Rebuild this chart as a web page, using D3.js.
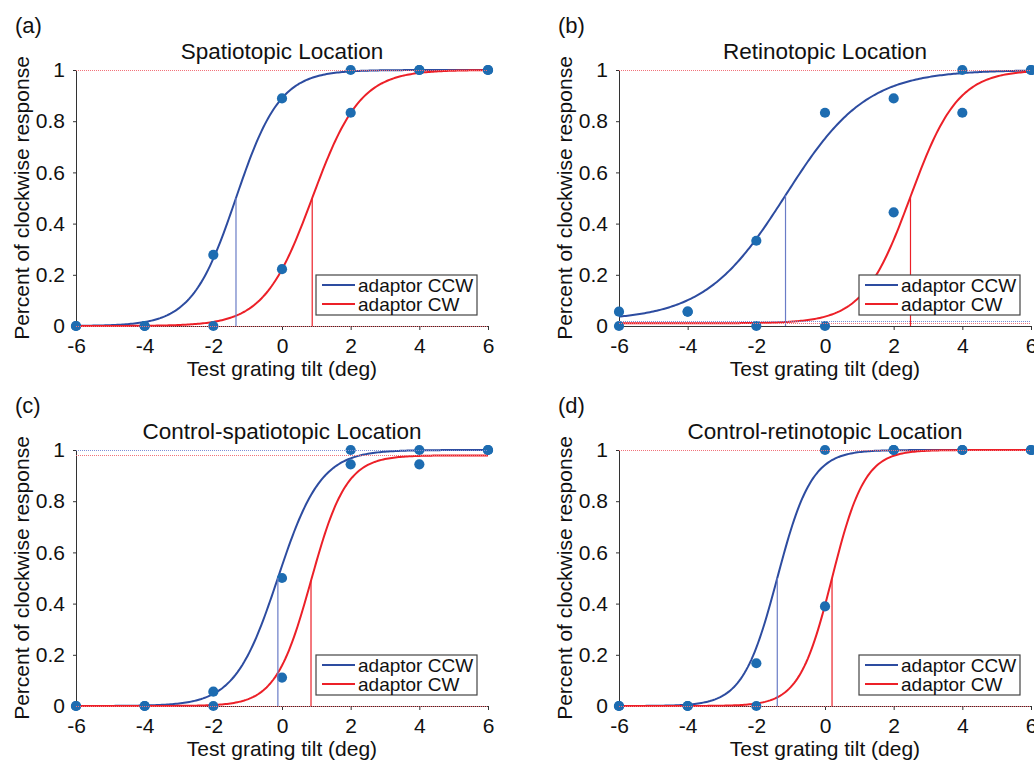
<!DOCTYPE html>
<html>
<head>
<meta charset="utf-8">
<script src="https://cdn.jsdelivr.net/npm/d3@7"></script>
<style>
  body { margin: 0; background: #fff; }
  text { font-family: "Liberation Sans", Arial, Helvetica, sans-serif; fill: #111; }
</style>
</head>
<body>
<script>
// test grating tilts (deg) and y ticks
const tilts = [-6, -4, -2, 0, 2, 4, 6];
const yTicks = [0, 0.2, 0.4, 0.6, 0.8, 1];

const panelLabels = ['(a)', '(b)', '(c)', '(d)'];
const panelTitles = [
  'Spatiotopic Location',
  'Retinotopic Location',
  'Control-spatiotopic Location',
  'Control-retinotopic Location'
];
const seriesNames = ['adaptor CCW', 'adaptor CW'];

// proportion of clockwise responses, one row per panel
const ccwValues = [
  [0, 0, 0.278, 0.889, 1, 1, 1],
  [0.056, 0.056, 0.333, 0.833, 0.889, 1, 1],
  [0, 0, 0.056, 0.5, 1, 1, 1],
  [0, 0, 0.167, 1, 1, 1, 1]
];
const cwValues = [
  [0, 0, 0, 0.222, 0.833, 1, 1],
  [0, 0.056, 0, 0, 0.444, 0.833, 1],
  [0, 0, 0, 0.111, 0.944, 0.944, 1],
  [0, 0, 0, 0.389, 1, 1, 1]
];

// fitted psychometric curves (logistic)
const ccwPse = [-1.34, -1.15, -0.12, -1.39];
const ccwSlope = [1.56, 0.85, 1.6, 2.0];
const ccwFloor = [0, 0.021, 0, 0];
const ccwCeil = [1, 1, 1, 1];
const cwPse = [0.88, 2.49, 0.845, 0.205];
const cwSlope = [1.43, 1.45, 1.95, 2.1];
const cwFloor = [0, 0.0105, 0, 0];
const cwCeil = [1, 1, 0.979, 1];

const blue = '#2d4ca0';
const red = '#ec2028';
const dotColor = '#1d6cb1';

const svg = d3.select('body').append('svg').attr('width', 1034).attr('height', 760);

const plotLeft = [76, 619, 76, 619];
const plotTop = [70, 70, 450, 450];
const plotW = 412;
const plotH = 256;

const logistic = (x, pse, k, lo, hi) => lo + (hi - lo) / (1 + Math.exp(-k * (x - pse)));

panelLabels.forEach((label, i) => {
  const x = d3.scaleLinear().domain([-6, 6]).range([plotLeft[i], plotLeft[i] + plotW]);
  const y = d3.scaleLinear().domain([0, 1]).range([plotTop[i] + plotH, plotTop[i]]);
  const g = svg.append('g');

  // axes
  const xAxis = g.append('g')
    .attr('transform', 'translate(0,' + y(0) + ')')
    .call(d3.axisBottom(x).tickValues(tilts).tickSize(4).tickSizeOuter(0).tickPadding(8).tickFormat((d) => String(d)));
  const yAxis = g.append('g')
    .attr('transform', 'translate(' + x(-6) + ',0)')
    .call(d3.axisLeft(y).tickValues(yTicks).tickSize(3).tickSizeOuter(0).tickPadding(8).tickFormat((d) => String(d)));
  [xAxis, yAxis].forEach((ax) => {
    ax.selectAll('path, line').attr('stroke', '#333').attr('stroke-width', 1);
    ax.selectAll('text').style('font-size', '21px').attr('fill', '#111');
  });

  const fits = [
    { values: ccwValues[i], pse: ccwPse[i], k: ccwSlope[i], lo: ccwFloor[i], hi: ccwCeil[i], color: blue, guide: '#7d8fd6', vline: '#6a7cc6' },
    { values: cwValues[i], pse: cwPse[i], k: cwSlope[i], lo: cwFloor[i], hi: cwCeil[i], color: red, guide: '#f2727a', vline: red }
  ];

  const line = d3.line().x((d) => x(d[0])).y((d) => y(d[1]));
  const xs = d3.range(-6, 6.001, 0.05);

  fits.forEach((f) => {
    g.append('path')
      .attr('d', line(xs.map((t) => [t, logistic(t, f.pse, f.k, f.lo, f.hi)])))
      .attr('fill', 'none')
      .attr('stroke', f.color)
      .attr('stroke-width', 2);
  });

  // data points
  fits.forEach((f) => {
    g.selectAll(null)
      .data(tilts.map((t, j) => [t, f.values[j]]))
      .enter()
      .append('circle')
      .attr('cx', (d) => x(d[0]))
      .attr('cy', (d) => y(d[1]))
      .attr('r', 5.1)
      .attr('fill', dotColor);
  });

  // asymptote guides and PSE markers
  fits.forEach((f) => {
    [f.lo, f.hi].forEach((level) => {
      const yy = Math.round(y(level)) + 0.5;
      g.append('line')
        .attr('x1', x(-6)).attr('x2', x(6))
        .attr('y1', yy).attr('y2', yy)
        .attr('stroke', f.guide)
        .attr('stroke-width', 1)
        .attr('stroke-dasharray', '1,1')
        .attr('shape-rendering', 'crispEdges');
    });
    g.append('line')
      .attr('x1', x(f.pse)).attr('x2', x(f.pse))
      .attr('y1', y(0)).attr('y2', y(logistic(f.pse, f.pse, f.k, f.lo, f.hi)))
      .attr('stroke', f.vline)
      .attr('stroke-width', 1.2);
  });

  // legend
  const lx = x(6) - 172;
  const ly = y(0) - 51;
  g.append('rect')
    .attr('x', lx).attr('y', ly)
    .attr('width', 161).attr('height', 40)
    .attr('fill', '#fff')
    .attr('stroke', '#444')
    .attr('stroke-width', 1.2);
  seriesNames.forEach((name, j) => {
    const yy = ly + 10 + j * 19;
    g.append('line')
      .attr('x1', lx + 6).attr('x2', lx + 39)
      .attr('y1', yy).attr('y2', yy)
      .attr('stroke', fits[j].color)
      .attr('stroke-width', 2);
    g.append('text')
      .attr('x', lx + 42).attr('y', yy + 6.5)
      .style('font-size', '19px')
      .text(name);
  });

  // labels
  g.append('text')
    .attr('x', plotLeft[i] - 61).attr('y', plotTop[i] - 37)
    .style('font-size', '22px')
    .text(label);
  g.append('text')
    .attr('x', plotLeft[i] + plotW / 2).attr('y', plotTop[i] - 11)
    .attr('text-anchor', 'middle')
    .style('font-size', '22.5px')
    .text(panelTitles[i]);
  g.append('text')
    .attr('x', plotLeft[i] + plotW / 2).attr('y', plotTop[i] + plotH + 50)
    .attr('text-anchor', 'middle')
    .style('font-size', '21px')
    .text('Test grating tilt (deg)');
  g.append('text')
    .attr('transform', 'translate(' + (plotLeft[i] - 47.5) + ',' + (plotTop[i] + plotH / 2) + ') rotate(-90)')
    .attr('text-anchor', 'middle')
    .style('font-size', '21px')
    .text('Percent of clockwise response');
});
</script>
</body>
</html>
